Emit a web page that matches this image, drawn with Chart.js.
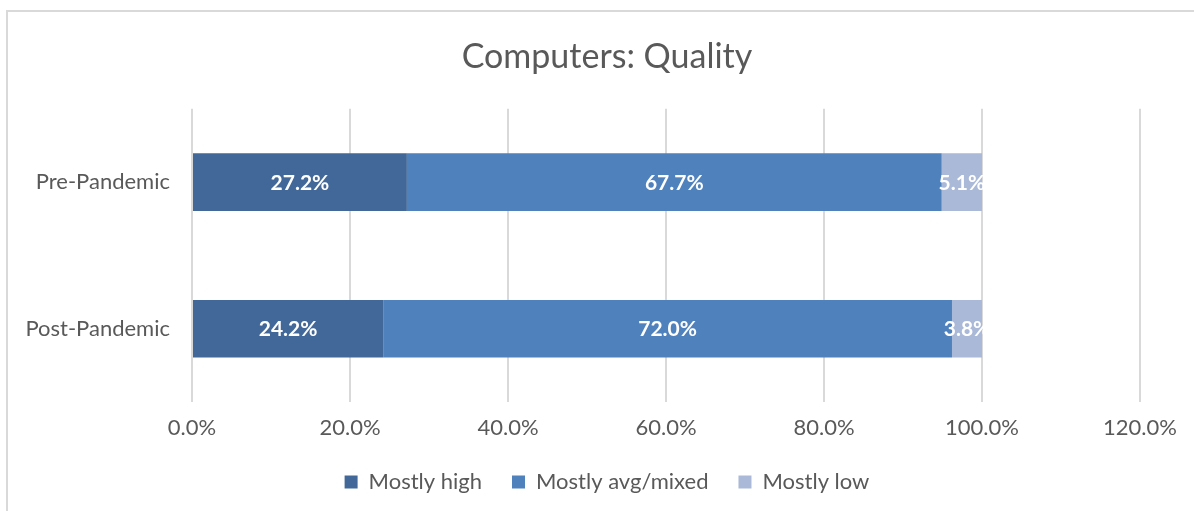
<!DOCTYPE html>
<html>
<head>
<meta charset="utf-8">
<script src="https://cdn.jsdelivr.net/npm/chart.js@4"></script>
<style>
  html, body { margin: 0; padding: 0; background: #fff; overflow: hidden; }
  #wrap { position: relative; width: 1194px; height: 511px; overflow: hidden; }
  #frame { position: absolute; left: 6px; top: 10px; width: 1300px; height: 600px; border: 2px solid #d9d9d9; box-sizing: border-box; }
  canvas { position: absolute; left: 0; top: 0; }
</style>
</head>
<body>
<div id="wrap">
  <div id="frame"></div>
  <canvas id="qualityChart" width="1290" height="600"></canvas>
</div>
<script>
// categories + series (share of respondents, 0..1)
const categories = ["Pre-Pandemic", "Post-Pandemic"];
const mostlyHigh = [0.272, 0.242];
const mostlyAvg = [0.677, 0.720];
const mostlyLow = [0.051, 0.038];
const xTicks = [0, 0.2, 0.4, 0.6, 0.8, 1.0, 1.2];

const FONT = "Lato, 'Open Sans', sans-serif";
const GREY = "#595959";

// draw value labels centered in each bar segment
const segmentLabels = {
    id: "segmentLabels",
    afterDatasetsDraw(chart) {
        const ctx = chart.ctx;
        ctx.save();
        ctx.font = "bold 21px " + FONT;
        ctx.fillStyle = "#ffffff";
        ctx.textAlign = "center";
        ctx.textBaseline = "middle";
        chart.data.datasets.forEach((ds, i) => {
            const meta = chart.getDatasetMeta(i);
            meta.data.forEach((bar, j) => {
                const cx = (bar.x + bar.base) / 2;
                ctx.fillText((ds.data[j] * 100).toFixed(1) + "%", cx, bar.y + 1);
            });
        });
        ctx.restore();
    }
};

// Excel centres title + legend on the whole (wider) chart frame
const shiftCentre = {
    id: "shiftCentre",
    afterLayout(chart) {
        if (chart.titleBlock) chart.titleBlock.left += 74;
        if (chart.legend) chart.legend.left += 74;
    }
};

const ctx = document.getElementById("qualityChart").getContext("2d");
new Chart(ctx, {
    type: "bar",
    data: {
        labels: categories,
        datasets: [
            { label: "Mostly high", data: mostlyHigh, backgroundColor: "#416899" },
            { label: "Mostly avg/mixed", data: mostlyAvg, backgroundColor: "#4f81bd" },
            { label: "Mostly low", data: mostlyLow, backgroundColor: "#aab9d8" }
        ]
    },
    options: {
        indexAxis: "y",
        responsive: false,
        animation: false,
        layout: { padding: { left: 0, right: 150, top: 0, bottom: 97 } },
        datasets: {
            bar: { categoryPercentage: 1, barPercentage: 0.393, borderWidth: 0 }
        },
        scales: {
            x: {
                stacked: true,
                min: 0,
                max: 1.2,
                afterBuildTicks: axis => { axis.ticks = xTicks.map(v => ({ value: v })); },
                afterFit: axis => { axis.height = 39; },
                ticks: {
                    callback: v => (v * 100).toFixed(1) + "%",
                    color: GREY,
                    font: { family: FONT, size: 22 },
                    padding: 13
                },
                grid: { color: "#d9d9d9", lineWidth: 2, drawTicks: false },
                border: { display: false }
            },
            y: {
                stacked: true,
                afterFit: axis => { axis.width = 192; },
                ticks: {
                    color: GREY,
                    font: { family: FONT, size: 22 },
                    padding: 22
                },
                grid: { display: false, drawTicks: false },
                border: { display: false }
            }
        },
        plugins: {
            title: {
                display: true,
                text: "Computers: Quality",
                color: GREY,
                font: { family: FONT, size: 34, weight: "normal" },
                padding: { top: 37, bottom: 31 }
            },
            legend: {
                position: "bottom",
                labels: {
                    color: GREY,
                    font: { family: FONT, size: 22 },
                    boxWidth: 13,
                    boxHeight: 13,
                    padding: 30
                }
            },
            tooltip: { enabled: false }
        }
    },
    plugins: [segmentLabels, shiftCentre]
});
</script>
</body>
</html>
